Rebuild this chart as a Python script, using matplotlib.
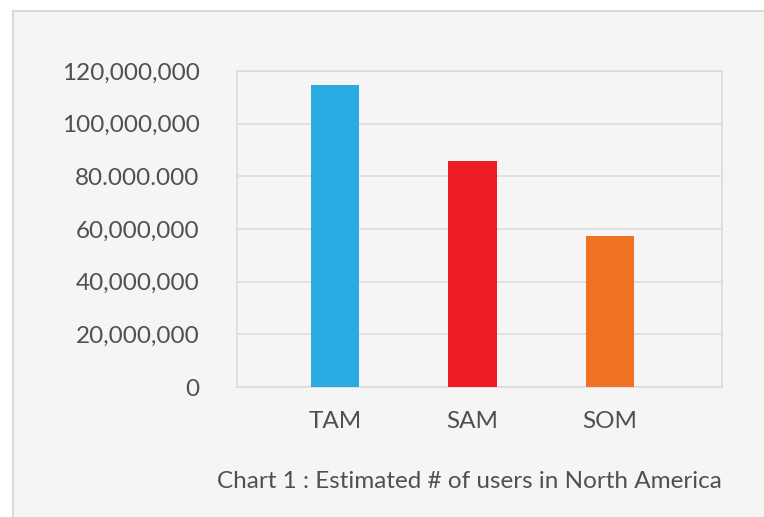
import matplotlib.pyplot as plt
import matplotlib.ticker as mticker
from matplotlib.patches import Rectangle

categories = ['TAM', 'SAM', 'SOM']
users = [114700000, 86000000, 57300000]
bar_colors = ['#29abe2', '#ed1c24', '#f07122']
yticks = [0, 20000000, 40000000, 60000000, 80000000, 100000000, 120000000]
ytick_labels = ['0', '20,000,000', '40,000,000', '60,000,000', '80.000.000',
                '100,000,000', '120,000,000']
caption = 'Chart 1 : Estimated # of users in North America'

plt.rcParams['font.family'] = ['Lato', 'DejaVu Sans']
text_color = '#505050'

fig = plt.figure(figsize=(7.64, 5.17), dpi=100)
fig.patch.set_facecolor('white')
# light grey panel, border only shows on the top and left
panel = Rectangle((13 / 764, -0.5), 2, 1.5 - 11 / 517, transform=fig.transFigure,
                  facecolor='#f5f5f5', edgecolor='#d9d9d9', linewidth=1.5,
                  zorder=-10)
fig.patches.append(panel)

ax = fig.add_axes([237 / 764, 1 - 387 / 517, 485 / 764, 316 / 517])
ax.set_facecolor('#f5f5f5')
ax.bar(range(len(categories)), users, width=0.35, color=bar_colors, zorder=3)
ax.set_xlim(-0.713, 2.814)
ax.set_ylim(0, 120000000)

ax.yaxis.set_major_locator(mticker.FixedLocator(yticks))
ax.set_yticklabels(ytick_labels)
ax.set_xticks(range(len(categories)))
ax.set_xticklabels(categories)
ax.grid(axis='y', color='#dcdcdc', linewidth=1.2, zorder=0)
for spine in ax.spines.values():
    spine.set_color('#dcdcdc')
    spine.set_linewidth(1.2)
ax.tick_params(axis='both', length=0, colors=text_color, labelsize=17.5)
ax.tick_params(axis='y', pad=27)
ax.tick_params(axis='x', pad=17)

fig.text(722 / 764, 1 - 481 / 517, caption, ha='right', va='center',
         fontsize=17.5, color=text_color)

fig.savefig('out.png', dpi=100)
